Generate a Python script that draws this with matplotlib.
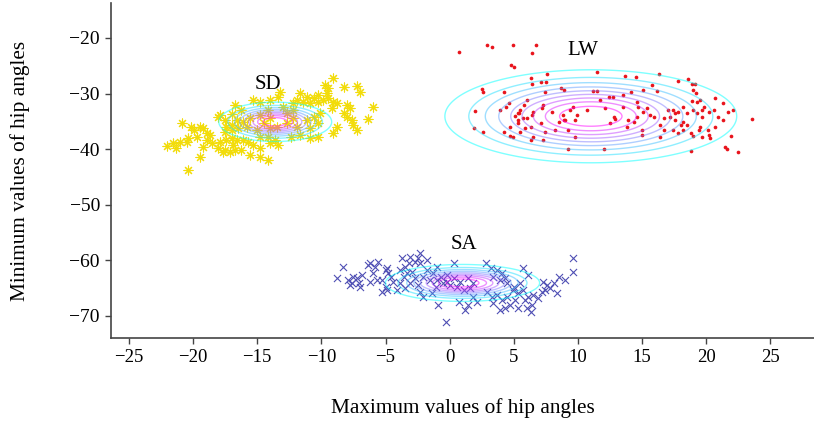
import numpy as np
import matplotlib
matplotlib.use("Agg")
import matplotlib.pyplot as plt

plt.rcParams['font.family'] = ['Liberation Serif', 'DejaVu Serif']

# LW - level walking (red dots)
lw_x = [0.7, 2.9, 3.3, 4.9, 6.7, 6.4, 4.8, 5.0, 11.5, 7.6, 6.3, 2.5, 2.6, 4.2, 6.4, 7.1, 7.5,
        7.4, 8.7, 8.9, 11.2, 11.5, 13.7, 14.5, 16.3, 17.8, 18.6, 18.9, 19.1, 19.0, 19.2, 15.8,
        15.1, 16.2, 14.1, 13.5, 12.7, 12.4, 11.7, 9.6, 9.4, 9.9, 10.7, 12.1, 12.8, 12.9, 12.5,
        9.8, 9.0, 8.8, 8.0, 7.3, 7.2, 6.5, 6.4, 6.0, 5.8, 5.5, 5.4, 5.7, 4.6, 4.4, 3.9, 5.3,
        5.1, 6.0, 7.1, 6.3, 5.9, 5.5, 4.7, 4.2, 2.6, 1.9, 2.0, 4.7, 4.9, 6.3, 6.5, 7.3, 9.2,
        12.0, 15.0, 15.0, 13.9, 13.8, 14.6, 14.4, 15.6, 15.9, 16.7, 17.2, 17.6, 16.4, 16.4,
        17.0, 17.6, 17.4, 17.8, 18.2, 18.5, 18.2, 18.5, 18.9, 19.3, 19.5, 19.0, 19.3, 19.7,
        19.8, 19.7, 20.2, 20.6, 20.7, 21.3, 20.9, 21.3, 21.7, 22.1, 19.5, 19.4, 20.1, 18.8,
        19.0, 19.7, 20.2, 20.3, 20.7, 21.9, 21.5, 21.6, 22.5, 23.6, 18.8, 18.0, 18.2, 17.4,
        17.8, 16.7, 15.1, 15.4, 14.6, 14.7, 13.5, 5.3, 5.3, 8.5, 8.9, 9.2, 8.2, 7.4, 9.8]
lw_y = [-22.5, -21.3, -21.6, -21.3, -21.3, -22.7, -24.9, -25.2, -26.1, -26.5, -27.2, -29.2,
        -29.7, -29.7, -28.3, -27.9, -27.9, -29.7, -29.0, -29.4, -29.5, -29.5, -26.8, -27.0,
        -26.5, -27.7, -27.4, -28.3, -28.3, -29.4, -29.9, -28.5, -29.4, -29.5, -29.7, -30.3,
        -30.6, -30.6, -31.2, -32.4, -32.9, -33.8, -32.9, -32.6, -34.2, -34.6, -35.3, -34.7,
        -34.7, -33.8, -33.3, -32.1, -32.6, -33.3, -33.8, -31.2, -32.1, -32.9, -33.5, -34.4,
        -31.7, -32.4, -32.9, -33.5, -34.0, -34.4, -35.3, -36.0, -36.2, -36.9, -36.0, -36.9,
        -36.9, -36.2, -33.1, -37.6, -37.8, -38.3, -37.8, -38.3, -40.0, -40.0, -36.5, -37.4,
        -34.7, -36.0, -34.2, -35.1, -33.8, -34.2, -34.4, -34.2, -34.7, -35.6, -37.8, -32.9,
        -33.5, -32.9, -33.3, -32.4, -33.5, -35.1, -35.6, -31.3, -31.5, -31.2, -32.9, -33.5,
        -32.9, -32.4, -34.2, -33.3, -32.9, -30.8, -31.7, -34.2, -34.7, -33.3, -32.9, -36.0,
        -36.5, -36.5, -37.1, -37.6, -37.8, -37.4, -38.0, -36.0, -37.6, -39.6, -40.0, -40.5,
        -34.6, -40.3, -35.6, -36.5, -36.5, -37.1, -36.5, -33.3, -32.6, -31.5, -32.4, -32.4,
        -34.7, -35.3, -35.1, -34.7, -36.5, -36.5, -36.9, -37.8]

# SD - stair descent (yellow asterisks)
sd_x = [-9.1, -9.7, -9.5, -8.2, -7.2, -7.0, -6.0, -6.4, -8.0, -7.8, -8.2, -8.0, -7.6, -7.5,
        -7.2, -9.1, -8.8, -9.6, -9.5, -9.1, -8.8, -9.2, -9.9, -10.3, -10.6, -10.3, -10.9,
        -11.7, -11.1, -11.9, -11.4, -12.2, -13.2, -13.4, -14.0, -14.8, -15.3, -16.7, -16.3,
        -18.1, -17.5, -17.4, -20.9, -20.2, -19.9, -19.2, -18.9, -19.5, -21.6, -21.0, -22.0,
        -21.3, -20.4, -20.5, -19.7, -18.9, -18.7, -18.5, -19.2, -18.1, -17.7, -17.5, -17.1,
        -16.7, -16.3, -17.9, -17.4, -17.0, -16.6, -16.1, -16.9, -17.5, -17.0, -16.5, -15.7,
        -15.3, -14.8, -15.6, -14.8, -14.2, -19.5, -20.4, -14.0, -13.6, -13.4, -14.8, -14.2,
        -12.4, -11.7, -10.9, -10.3, -13.0, -12.7, -12.2, -14.2, -14.8, -14.0, -14.5, -13.5,
        -15.6, -16.1, -15.8, -15.0, -12.7, -11.9, -11.1, -10.6, -10.1, -10.3, -10.9, -14.0,
        -12.2, -17.9, -17.0, -16.6, -17.0]
sd_y = [-27.2, -28.5, -29.0, -28.8, -28.6, -29.7, -32.4, -34.6, -32.1, -32.6, -33.5, -34.2,
        -34.7, -35.6, -36.5, -37.1, -36.0, -29.9, -30.8, -31.5, -31.7, -32.6, -31.2, -30.3,
        -30.8, -31.5, -31.7, -29.9, -30.6, -31.2, -31.5, -31.7, -29.7, -30.6, -31.2, -31.5,
        -31.2, -32.1, -32.9, -34.2, -34.7, -36.0, -35.3, -36.0, -36.5, -36.2, -37.1, -36.0,
        -38.9, -38.7, -39.4, -39.8, -38.0, -38.7, -37.8, -38.3, -37.4, -38.9, -39.6, -39.8,
        -40.5, -40.1, -40.5, -40.1, -40.1, -38.7, -38.3, -38.0, -38.3, -38.3, -39.2, -36.9,
        -36.5, -36.2, -38.7, -39.2, -39.8, -41.0, -41.4, -41.9, -41.4, -43.7, -38.9, -38.3,
        -39.2, -37.8, -37.8, -37.8, -37.4, -38.0, -37.8, -32.4, -33.5, -32.9, -32.9, -33.8,
        -34.4, -35.3, -36.0, -34.4, -35.1, -36.0, -36.5, -35.3, -36.0, -34.7, -34.2, -33.5,
        -35.3, -36.2, -36.2, -34.4, -33.8, -33.7, -34.7, -35.6]

# SA - stair ascent (blue crosses)
sa_x = [-8.3, -8.8, -7.9, -7.6, -7.2, -6.8, -7.5, -7.1, -7.0, -7.8, -6.4, -6.2, -5.8, -5.6,
        -6.0, -5.7, -6.2, -5.3, -5.0, -4.8, -4.9, -4.6, -4.4, -5.0, -5.3, -4.9, -3.7, -3.5,
        -3.2, -3.1, -2.7, -2.3, -2.5, -2.3, -1.8, -3.9, -3.6, -3.3, -2.9, -2.7, -3.1, -3.9,
        -3.5, -4.1, -2.5, -1.8, -1.3, -1.5, -2.1, -1.0, -1.1, -2.3, -1.4, -2.1, 0.3, -0.9,
        -0.3, -0.2, 0.3, 0.8, 1.4, 1.8, 0.6, 1.1, 1.6, 0.7, 1.2, 1.4, 1.8, 2.1, 2.8, 3.2,
        3.7, 4.1, 3.4, 3.9, 4.3, 2.9, 3.3, 3.7, 4.1, 4.5, 4.7, 4.3, 5.1, 5.3, 3.9, 3.4, 4.5,
        5.0, 4.9, 5.5, 5.3, 5.7, 5.9, 6.1, 6.0, 6.3, 6.4, 5.7, 6.1, 6.5, 6.9, 7.3, 7.6, 7.4,
        7.2, 7.8, 8.4, 8.1, 8.5, 9.0, 9.6, 9.6, -1.0, -0.5, 0.0, -0.7, -0.2]
sa_y = [-61.2, -63.3, -63.5, -64.1, -63.2, -62.6, -63.0, -64.1, -64.8, -64.4, -60.8, -60.5,
        -61.2, -60.3, -62.3, -63.5, -63.9, -63.5, -61.7, -62.3, -61.4, -63.0, -63.9, -64.8,
        -65.7, -65.3, -59.6, -61.2, -60.5, -59.4, -60.3, -58.7, -59.6, -60.5, -59.9, -61.7,
        -63.0, -62.3, -62.1, -63.2, -64.1, -64.1, -65.0, -65.3, -64.4, -61.7, -62.3, -63.5,
        -63.0, -61.2, -64.8, -65.7, -65.9, -66.6, -60.5, -68.0, -71.1, -62.6, -63.2, -63.9,
        -63.2, -64.1, -64.8, -65.3, -65.0, -67.5, -68.9, -68.0, -66.6, -67.5, -60.5, -61.4,
        -61.7, -62.3, -63.0, -63.5, -63.2, -65.7, -66.6, -66.2, -67.1, -66.6, -68.0, -68.6,
        -67.1, -68.6, -68.9, -67.7, -64.1, -64.8, -65.3, -64.1, -65.9, -65.3, -67.1, -66.6,
        -68.6, -69.3, -68.0, -61.4, -62.6, -66.2, -66.8, -63.9, -64.4, -65.3, -65.7, -65.0,
        -65.9, -64.1, -63.0, -63.5, -59.7, -62.1, -63.5, -64.1, -64.4, -63.0, -63.9]

# fitted gaussian for each class: centre x, centre y, spread x, spread y
classes = ["SD", "LW", "SA"]
centre_x = [-13.6, 11.0, 1.0]
centre_y = [-35.1, -34.1, -64.1]
spread_x = [2.05, 5.3, 2.8]
spread_y = [1.65, 3.9, 1.55]
label_x = [-14.2, 10.4, 1.1]
label_y = [-28.3, -22.2, -57.2]

fig = plt.figure(figsize=(8.14, 4.24), dpi=100)
ax = fig.add_axes([0.1364, 0.203, 0.8636, 0.79])

ax.scatter(lw_x, lw_y, s=7, c='#e8141c', marker='o', linewidths=0, zorder=2)
ax.scatter(sd_x, sd_y, s=42, c='#f2dc0a', marker=(8, 2, 0), linewidths=0.8, zorder=2)
ax.scatter(sa_x, sa_y, s=26, c='#4f4fb4', marker='x', linewidths=0.8, zorder=2)

gx, gy = np.meshgrid(np.linspace(-27, 29, 600), np.linspace(-75, -13, 600))
for i in range(len(classes)):
    z = np.exp(-((gx - centre_x[i]) ** 2 / (2 * spread_x[i] ** 2)
                 + (gy - centre_y[i]) ** 2 / (2 * spread_y[i] ** 2)))
    ax.contour(gx, gy, z, levels=np.arange(0.1, 0.95, 0.1), cmap='cool',
               linewidths=1.0, alpha=0.5, zorder=3)
    ax.text(label_x[i], label_y[i], classes[i], fontsize=15, ha='center', va='center', zorder=4)

ax.set_xlim(-26.4, 28.4)
ax.set_ylim(-74, -13.7)
ax.set_xticks(np.arange(-25, 30, 5))
ax.set_yticks(np.arange(-70, -10, 10))
for side in ['top', 'right']:
    ax.spines[side].set_visible(False)
for side in ['left', 'bottom']:
    ax.spines[side].set_color('#444444')
    ax.spines[side].set_linewidth(1.2)
ax.tick_params(direction='out', length=4, width=1, color='#444444', pad=4)
ax.tick_params(axis='x', labelsize=13.5)
ax.tick_params(axis='y', labelsize=14)

ax.set_xlabel("Maximum values of hip angles", fontsize=15.3, labelpad=23)
ax.set_ylabel("Minimum values of hip angles", fontsize=15.3, labelpad=28)

fig.savefig("out.png", dpi=100)
